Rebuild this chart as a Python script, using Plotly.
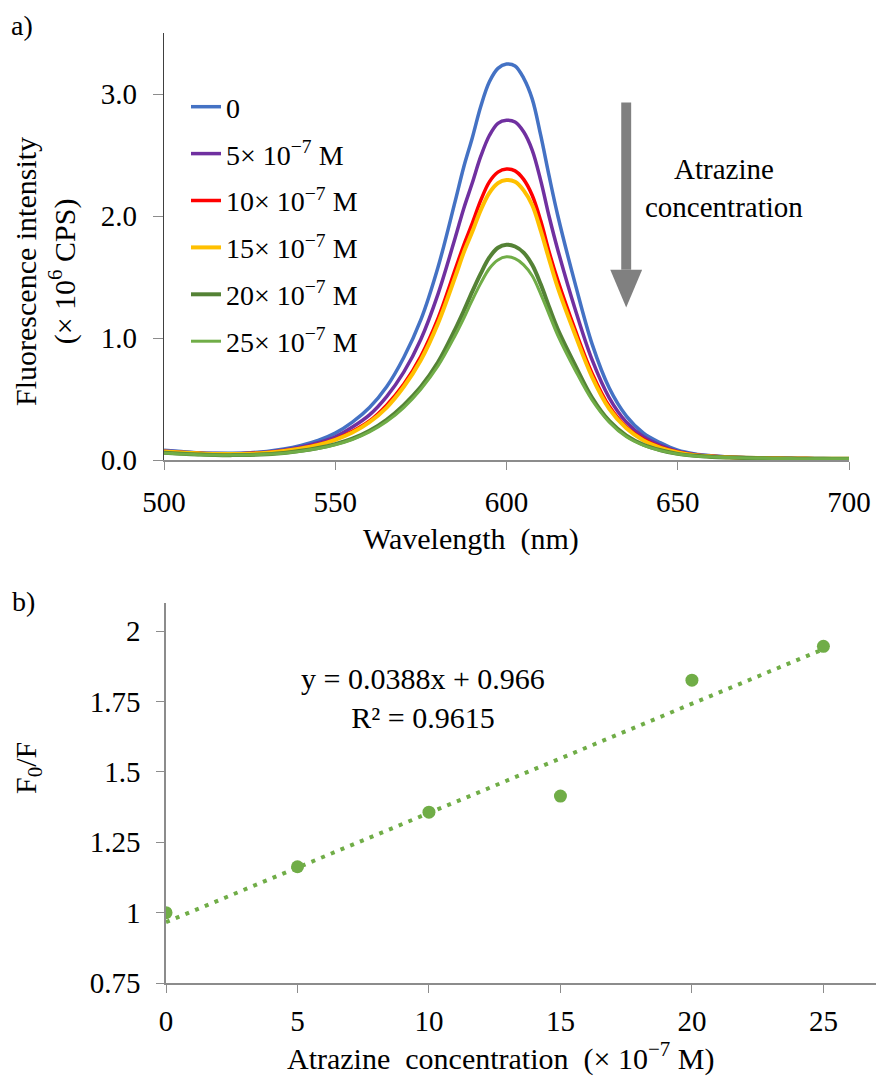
import plotly.graph_objects as go

# ---------------- data: panel a (spectra) ----------------
wavelength = [500, 505, 510, 515, 520, 525, 530, 535, 540, 545, 550, 555, 560, 565, 570,
              575, 580, 585, 587.5, 590, 592.5, 595, 597.5, 600, 602.5, 605, 607.5, 610, 612.5,
              615, 620, 625, 630, 635, 640, 645, 650, 655, 660, 665, 670, 675, 680, 685, 690, 695, 700]

int_0 = [0.08, 0.07, 0.06, 0.055, 0.055, 0.06, 0.07, 0.09, 0.12, 0.16, 0.22, 0.31, 0.43, 0.60, 0.84,
         1.15, 1.58, 2.12, 2.40, 2.64, 2.90, 3.10, 3.21, 3.245, 3.23, 3.13, 2.96, 2.66, 2.32,
         2.00, 1.45, 0.95, 0.59, 0.36, 0.22, 0.14, 0.08, 0.05, 0.035, 0.025, 0.02, 0.018, 0.015,
         0.013, 0.012, 0.011, 0.01]
int_5 = [0.075, 0.065, 0.058, 0.053, 0.052, 0.056, 0.065, 0.082, 0.107, 0.142, 0.19, 0.27, 0.37, 0.52, 0.72,
         0.99, 1.36, 1.82, 2.06, 2.27, 2.49, 2.66, 2.76, 2.785, 2.77, 2.69, 2.54, 2.29, 1.99,
         1.72, 1.24, 0.82, 0.51, 0.31, 0.19, 0.12, 0.07, 0.045, 0.032, 0.024, 0.019, 0.017, 0.014,
         0.012, 0.011, 0.01, 0.01]
int_10 = [0.07, 0.062, 0.055, 0.05, 0.05, 0.053, 0.06, 0.075, 0.097, 0.127, 0.17, 0.235, 0.32, 0.45, 0.62,
          0.85, 1.16, 1.56, 1.76, 1.94, 2.13, 2.28, 2.36, 2.385, 2.37, 2.30, 2.17, 1.96, 1.70,
          1.47, 1.07, 0.71, 0.44, 0.27, 0.17, 0.105, 0.065, 0.042, 0.03, 0.023, 0.018, 0.016, 0.014,
          0.012, 0.011, 0.01, 0.01]
int_15 = [0.07, 0.062, 0.055, 0.05, 0.05, 0.052, 0.059, 0.073, 0.094, 0.123, 0.165, 0.225, 0.31, 0.43, 0.60,
          0.82, 1.12, 1.50, 1.70, 1.87, 2.05, 2.19, 2.27, 2.295, 2.28, 2.21, 2.09, 1.88, 1.64,
          1.41, 1.03, 0.68, 0.42, 0.26, 0.16, 0.10, 0.062, 0.04, 0.029, 0.022, 0.018, 0.016, 0.014,
          0.012, 0.011, 0.01, 0.01]
int_20 = [0.06, 0.052, 0.045, 0.04, 0.04, 0.042, 0.048, 0.058, 0.075, 0.098, 0.13, 0.175, 0.24, 0.33, 0.45,
          0.60, 0.80, 1.07, 1.22, 1.38, 1.53, 1.66, 1.74, 1.765, 1.75, 1.70, 1.60, 1.44, 1.25,
          1.07, 0.78, 0.51, 0.32, 0.20, 0.125, 0.08, 0.05, 0.034, 0.025, 0.02, 0.016, 0.014, 0.012,
          0.011, 0.01, 0.01, 0.01]
int_25 = [0.058, 0.05, 0.044, 0.04, 0.04, 0.042, 0.047, 0.056, 0.072, 0.094, 0.125, 0.168, 0.23, 0.315, 0.43,
          0.58, 0.77, 1.02, 1.16, 1.31, 1.45, 1.57, 1.64, 1.665, 1.65, 1.60, 1.51, 1.36, 1.19,
          1.02, 0.74, 0.49, 0.31, 0.19, 0.12, 0.077, 0.049, 0.033, 0.025, 0.02, 0.016, 0.014, 0.012,
          0.011, 0.01, 0.01, 0.01]

series_names = ["0", "5× 10<sup>−7</sup> M", "10× 10<sup>−7</sup> M", "15× 10<sup>−7</sup> M",
                "20× 10<sup>−7</sup> M", "25× 10<sup>−7</sup> M"]
series_values = [int_0, int_5, int_10, int_15, int_20, int_25]
series_colors = ["#4472C4", "#7030A0", "#FF0000", "#FFC000", "#548235", "#70AD47"]
series_widths = [3.5, 3.5, 3.5, 4, 4, 3]

# ---------------- data: panel b (Stern-Volmer) ----------------
conc = [0, 5, 10, 15, 20, 25]
f0_f = [1.0, 1.163, 1.357, 1.414, 1.826, 1.946]
fit_slope = 0.0388
fit_intercept = 0.966
fit_x = [0, 25]

FONT = "Liberation Serif, Times New Roman, serif"
W, H = 876, 1076


def px_x(p):
    return p / W


def px_y(p):
    return 1 - p / H


fig = go.Figure()

for name, vals, col, lw in zip(series_names, series_values, series_colors, series_widths):
    fig.add_trace(go.Scatter(x=wavelength, y=vals, mode="lines", name=name,
                             line=dict(color=col, width=lw, shape="spline", smoothing=1.0),
                             legendgroup=name, xaxis="x", yaxis="y"))

fit_y = [fit_slope * v + fit_intercept for v in fit_x]
fig.add_trace(go.Scatter(x=fit_x, y=fit_y, mode="lines", showlegend=False,
                         line=dict(color="#70AD47", width=4, dash="4px,6.5px"),
                         xaxis="x2", yaxis="y2"))
fig.add_trace(go.Scatter(x=conc, y=f0_f, mode="markers", showlegend=False,
                         marker=dict(color="#70AD47", size=13),
                         xaxis="x2", yaxis="y2"))

axis_common = dict(showgrid=False, zeroline=False, ticks="outside",
                   tickcolor="#8c8c8c", tickwidth=1.3, showline=True, automargin=False,
                   tickfont=dict(family=FONT, size=29, color="black"))

fig.update_layout(
    template="none",
    width=W, height=H,
    margin=dict(l=0, r=0, t=0, b=0, pad=0, autoexpand=False),
    paper_bgcolor="white", plot_bgcolor="white",
    font=dict(family=FONT, color="black"),
    xaxis=dict(domain=[px_x(164), px_x(849)], range=[500, 700], tickvals=[500, 550, 600, 650, 700],
               anchor="y", linecolor="#8c8c8c", linewidth=1.6, ticklen=8, ticklabelstandoff=7,
               **axis_common),
    yaxis=dict(domain=[px_y(460), px_y(33)], range=[0, 3.5], tickvals=[0, 1, 2, 3], tickformat=".1f",
               anchor="x", linecolor="#404040", linewidth=1.2, ticklen=10, ticklabelstandoff=10,
               **axis_common),
    xaxis2=dict(domain=[px_x(166), 1.0], range=[0, 27], tickvals=[0, 5, 10, 15, 20, 25],
                anchor="y2", linecolor="#8c8c8c", linewidth=1.6, ticklen=8, ticklabelstandoff=3,
                **axis_common),
    yaxis2=dict(domain=[px_y(983), px_y(603)], range=[0.75, 2.1],
                tickvals=[0.75, 1, 1.25, 1.5, 1.75, 2], ticktext=["0.75", "1", "1.25", "1.5", "1.75", "2"],
                anchor="x2", linecolor="#8c8c8c", linewidth=1.6, ticklen=8, ticklabelstandoff=10,
                **axis_common),
    legend=dict(x=px_x(186), y=px_y(82), xanchor="left", yanchor="top",
                font=dict(family=FONT, size=28, color="black"),
                bgcolor="rgba(0,0,0,0)", tracegroupgap=7.5, itemwidth=30),
    showlegend=True,
)

# arrow (annotation shape) in panel a
fig.add_shape(type="rect", xref="x", yref="y", x0=633.5, x1=636.4, y0=1.56, y1=2.93,
              fillcolor="#808080", line=dict(width=0))
fig.add_shape(type="path", xref="x", yref="y", path="M 630.3,1.56 L 639.6,1.56 L 634.95,1.25 Z",
              fillcolor="#808080", line=dict(width=0))


def note(text, x, y, size, angle=0):
    return dict(text=text, x=px_x(x), y=px_y(y), xref="paper", yref="paper", showarrow=False,
                xanchor="center", yanchor="middle", textangle=angle, align="center",
                font=dict(family=FONT, size=size, color="black"))


ann = [
    note("Atrazine<br>concentration", 724, 188, 29),
    note("a)", 22, 25, 28),
    note("b)", 23, 601, 28),
    note("Fluorescence intensity<br>(× 10<sup>6</sup> CPS)", 46, 272, 30, -90),
    note("Wavelength  (nm)", 471, 539, 30),
    note("F<sub>0</sub>/F", 28, 768, 30, -90),
    note("Atrazine  concentration  (× 10<sup>−7</sup> M)", 501, 1056, 30),
    note("y = 0.0388x + 0.966<br>R² = 0.9615", 423, 698, 30),
]
fig.update_layout(annotations=ann)

fig.write_html("out.html")
